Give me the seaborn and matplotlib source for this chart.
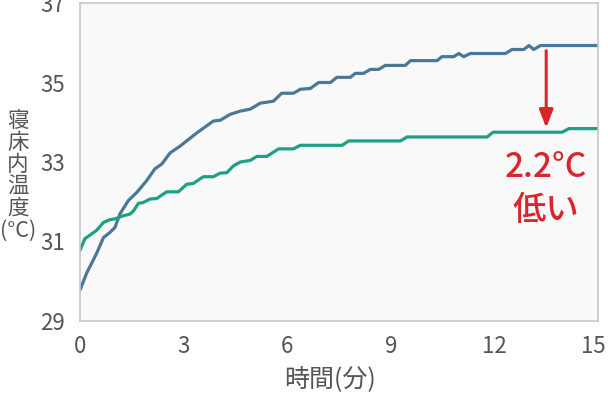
import numpy as np
import pandas as pd
import matplotlib
matplotlib.use("Agg")
import matplotlib.pyplot as plt
import matplotlib.transforms as mtransforms
import seaborn as sns

# ---- data ----
series_names = ["通常", "対策"]

blue_t = [0.00, 0.19, 0.48, 0.68, 0.87, 1.01, 1.16, 1.40, 1.64, 1.93, 2.17, 2.37,
          2.61, 2.90, 3.19, 3.38, 3.86, 4.06, 4.35, 4.64, 4.93, 5.22, 5.60, 5.84,
          6.18, 6.38, 6.67, 6.91, 7.25, 7.44, 7.83, 7.97, 8.21, 8.41, 8.65, 8.84,
          9.42, 9.57, 10.34, 10.48, 10.82, 10.97, 11.11, 11.30, 12.32, 12.51, 12.85,
          13.00, 13.14, 13.33, 15.00]
blue_v = [29.78, 30.20, 30.70, 31.10, 31.23, 31.35, 31.70, 32.03, 32.23, 32.53, 32.83, 32.95,
          33.23, 33.40, 33.60, 33.73, 34.03, 34.05, 34.20, 34.28, 34.33, 34.48, 34.53, 34.73,
          34.73, 34.83, 34.85, 35.00, 35.00, 35.13, 35.13, 35.23, 35.23, 35.33, 35.33, 35.43,
          35.43, 35.55, 35.55, 35.65, 35.65, 35.73, 35.65, 35.73, 35.73, 35.83, 35.83,
          35.93, 35.83, 35.93, 35.93]

green_t = [0.00, 0.14, 0.48, 0.68, 0.87, 1.01, 1.26, 1.45, 1.55, 1.69, 1.83, 2.03, 2.22,
           2.51, 2.85, 3.09, 3.28, 3.57, 3.86, 4.06, 4.25, 4.44, 4.64, 4.93, 5.12, 5.41,
           5.75, 6.18, 6.38, 7.59, 7.78, 9.28, 9.47, 11.79, 11.96, 13.96, 14.16, 15.00]
green_v = [30.78, 31.07, 31.28, 31.48, 31.55, 31.57, 31.65, 31.69, 31.77, 31.96, 31.98, 32.07, 32.08,
           32.25, 32.25, 32.44, 32.46, 32.63, 32.63, 32.72, 32.73, 32.90, 33.00, 33.04, 33.14, 33.14,
           33.33, 33.33, 33.42, 33.42, 33.53, 33.53, 33.63, 33.63, 33.75, 33.75, 33.84, 33.84]

x_ticks = [0, 3, 6, 9, 12, 15]
y_ticks = [29, 31, 33, 35, 37]
x_label = "時間(分)"
y_label = "寝床内温度"
y_unit = "(°C)"
annot_value = "2.2°C"
annot_word = "低い"
arrow_x = 13.5
arrow_from = 35.80
arrow_to = 33.86

df = pd.concat([
    pd.DataFrame({"time": blue_t, "temp": blue_v, "series": series_names[0]}),
    pd.DataFrame({"time": green_t, "temp": green_v, "series": series_names[1]}),
], ignore_index=True)

# ---- styling ----
sns.set_theme(style="white")
plt.rcParams["font.family"] = ["Noto Sans CJK JP", "DejaVu Sans"]

BLUE = "#4a7898"
GREEN = "#1fa085"
RED = "#d8262c"
GRAY_TXT = "#555555"
SPINE = "#c8c8c8"

fig = plt.figure(figsize=(6.08, 3.94), dpi=100)
ax = fig.add_axes([80 / 608, 1 - 321 / 394, (598 - 80) / 608, (321 - 3) / 394])
ax.set_facecolor("#f9f9f9")

sns.lineplot(data=df, x="time", y="temp", hue="series",
             palette={series_names[0]: BLUE, series_names[1]: GREEN},
             linewidth=2.3, legend=False, ax=ax, estimator=None, sort=False)

ax.set_xlim(0, 15)
ax.set_ylim(29, 37)
ax.set_xticks(x_ticks)
ax.set_yticks(y_ticks)
ax.set_xticklabels([str(v) for v in x_ticks])
ax.set_yticklabels([str(v) for v in y_ticks])
ax.tick_params(axis="both", direction="in", length=8, width=1.5, color="#bbbbbb",
               labelsize=16, labelcolor=GRAY_TXT)
ax.tick_params(axis="y", pad=11)
ax.tick_params(axis="x", pad=10)
for s in ax.spines.values():
    s.set_color(SPINE)
    s.set_linewidth(1.2)

# keep the last x tick label inside the figure
last = ax.get_xticklabels()[-1]
last.set_transform(last.get_transform() +
                   mtransforms.ScaledTranslation(-5 / 100, 0, fig.dpi_scale_trans))

ax.set_xlabel(x_label, fontsize=18, color=GRAY_TXT)
ax.xaxis.set_label_coords((330 - 80) / 518, -(379 - 321) / 318)
ax.xaxis.label.set_va("center")
ax.set_ylabel("")
fig.text(18 / 608, 1 - 176 / 394, "\n".join(list(y_label)) + "\n" + y_unit,
         ha="center", va="center", fontsize=15.5, color=GRAY_TXT, linespacing=1.0)

ax.annotate("", xy=(arrow_x, arrow_to), xytext=(arrow_x, arrow_from),
            arrowprops=dict(arrowstyle="-|>,head_width=0.35,head_length=0.9",
                            color=RED, lw=2.2, shrinkA=0, shrinkB=0))
ax.text(arrow_x, 32.87, annot_value, ha="center", va="center", color=RED,
        fontsize=24, fontweight="medium")
ax.text(arrow_x, 31.78, annot_word, ha="center", va="center", color=RED,
        fontsize=24, fontweight="medium")

fig.savefig("out.png", dpi=100, facecolor="white")
